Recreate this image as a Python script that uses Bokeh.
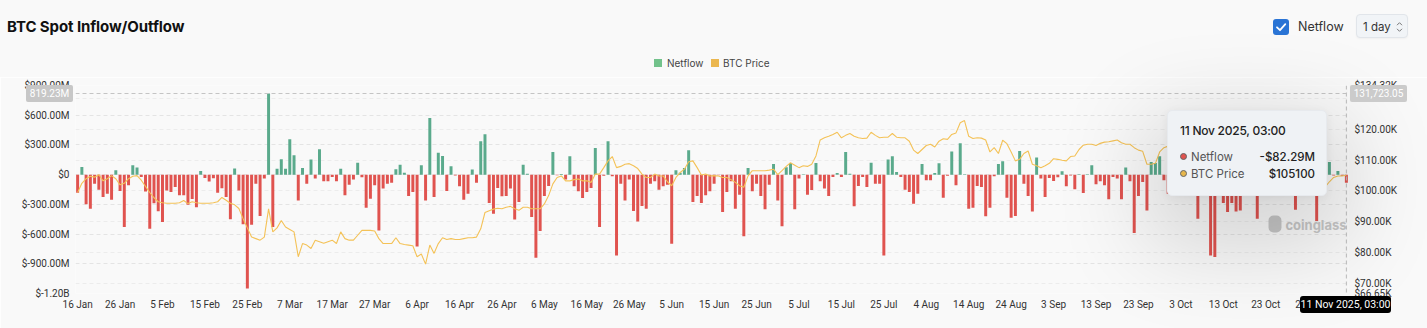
import pandas as pd
from bokeh.plotting import figure
from bokeh.layouts import column
from bokeh.models import (Range1d, LinearAxis, FixedTicker, DatetimeTickFormatter,
                          PrintfTickFormatter, Grid, Span, Label, BoxAnnotation,
                          ColumnDataSource, CDSView, BooleanFilter, Div)
from bokeh.embed import file_html
from bokeh.resources import INLINE

# ---------------- data ----------------
start_date = "2025-01-16"

netflow_m = [
    -182, 78, -300, -344, -91, -152, -226, -192, -253, 44,
    -165, -529, -108, 94, 71, -24, -169, -546, -290, -370,
    -479, -160, -175, -125, -209, -209, -305, -245, -330, 37,
    -35, -70, -37, -183, -138, -226, -450, 61, -160, -500,
    -1150, -505, -91, -418, -40, 819.23, -529, 60, 155, 60,
    357, 195, -260, 67, -91, 152, -40, 256, -67, -67,
    -24, -67, 60, -209, -101, -50, 121, -27, -334, -243,
    -108, -563, -141, -91, -81, 54, 101, 20, -216, -175,
    -725, 94, -260, 573, -226, 222, 189, -165, 84, -8,
    -118, -253, -192, 51, -81, 337, 408, -286, -394, -135,
    -219, -216, -141, -452, -276, 101, 10, -428, -839, -570,
    -216, -115, 229, -5, 7, -50, 185, -118, -168, -236,
    -175, -135, 270, -529, -10, 337, -17, -816, -91, -260,
    -50, -367, -472, -317, -344, -91, -67, -152, -118, -101,
    -698, 44, 20, 67, 246, -276, -216, -286, -209, -168,
    -91, -5, -377, -175, -67, -344, -202, -623, 67, -168,
    -91, -216, -350, -101, 108, -260, -522, 74, 118, -350,
    -40, 5, -202, -155, 118, -67, -141, -216, -24, 17,
    -24, 229, 10, -320, -115, -24, -125, 121, -91, -91,
    -816, 152, 185, 27, -24, -152, -175, -293, -192, 108,
    -57, -57, 17, 115, -233, -10, 233, -108, 317, 5,
    -344, -334, -115, -125, -421, -334, -17, 108, 135, -233,
    -435, -418, 239, -91, -216, -371, 172, -40, -226, -34,
    -64, -27, 34, -118, -8, -148, 5, -185, 5, 94,
    -98, -67, -108, -249, -24, -40, -249, 71, -67, -590,
    -216, -74, -361, 128, 118, 185, -57, -192, -150, 90,
    -120, -180, 60, -90, -445, -160, -190, -816, -832, -140,
    -286, -377, -286, -371, -361, -70, -180, 45, -445, -120,
    -60, -150, 40, -110, -170, 70, -130, -354, -100, 30,
    -160, -80, -468, -140, -60, 127, -8, 37, -10, -82.29,
]

btc_price_k = [
    99.5, 102.5, 104, 104.8, 104.5, 105.3, 103.3, 104, 105, 104,
    102, 102.5, 104, 104.8, 105, 103.5, 101.5, 99.5, 97.8, 96.5,
    96.2, 96, 96, 96, 96.2, 96.9, 95.9, 96.5, 96.2, 96,
    96, 96, 96.2, 96.5, 97.9, 97, 96, 95.5, 94.3, 91,
    88, 85, 84.5, 84, 85, 94.2, 86.7, 88, 90.4, 88.3,
    87.5, 86.7, 78.6, 82.9, 82.4, 81.3, 84, 83.5, 83, 83.5,
    84, 82.9, 86.7, 84.5, 84, 84, 85.6, 87.2, 87.2, 87.2,
    87, 84.5, 82.9, 82.9, 82.9, 84.8, 82.9, 82.6, 82.4, 82.2,
    78.6, 79.5, 76.2, 82.4, 79.7, 82.9, 84.8, 84.2, 84.5, 84.2,
    84.2, 84.5, 84.8, 84.8, 85, 87.7, 93, 93.6, 94.1, 94.4,
    94.2, 94.7, 95, 94.2, 93.7, 94.7, 94.7, 94.2, 94.2, 94.2,
    95.8, 98.5, 102.3, 104.4, 104.9, 103.3, 103.3, 103.7, 103.9, 103.3,
    103.3, 102.8, 105.5, 105.5, 107.6, 109.8, 111.2, 107.6, 108, 108.7,
    108.9, 108.2, 107.3, 105.5, 104.4, 104.4, 105.5, 104.9, 104.9, 103,
    101.7, 104.4, 106, 107.1, 109.5, 109.8, 107.6, 105.2, 105.5, 104.9,
    105, 104.9, 104.4, 104.4, 103.7, 102.8, 101.7, 101.2, 104.9, 106.6,
    106.6, 106.6, 106.6, 106.8, 107.1, 105.3, 106.6, 108, 109.2, 108.4,
    107.6, 108.2, 108, 108.7, 111.4, 116.6, 117.3, 117.8, 118.4, 119.1,
    117.3, 118.1, 118.7, 117.8, 117.3, 117.1, 117.2, 119.1, 118.1, 117.3,
    117.5, 117.5, 118.7, 117.5, 117.3, 117.3, 116.2, 113.3, 112.2, 113.5,
    114.8, 115.2, 114.3, 116.2, 117, 116.8, 118.4, 118.9, 122.2, 122.9,
    117.8, 117.1, 117.3, 117.2, 116.6, 112.7, 114.1, 112.2, 116.5, 115.4,
    112.7, 109.8, 110.3, 112.2, 113, 108.7, 108.2, 107.6, 108.2, 109,
    110.5, 110.3, 110, 109.8, 111.2, 111.4, 113.5, 114.9, 115.2, 115.2,
    114.8, 115.5, 115.9, 116, 116.3, 116.6, 115.7, 115.2, 115.2, 114.1,
    113.3, 112.9, 108.7, 108.7, 109, 112.7, 114.1, 114.6, 118, 120.5,
    122.3, 122.3, 123.5, 124.7, 121.5, 123.3, 121.7, 113.2, 110.7, 115,
    115.3, 113, 110.8, 108.2, 106.5, 107.2, 108.6, 110.5, 108.4, 107.6,
    110, 111, 111.6, 114.5, 114.1, 112.9, 110, 108.3, 109.6, 110,
    110.6, 106.5, 101.5, 103.9, 101.3, 103, 104.4, 104.9, 104.9, 105.1,
]

left_ticks = [-1200, -900, -600, -300, 0, 300, 600, 900]
left_tick_labels = ["$-1.20B", "$-900.00M", "$-600.00M", "$-300.00M", "$0",
                    "$300.00M", "$600.00M", "$900.00M"]
right_ticks = [66.65, 70, 80, 90, 100, 110, 120, 134.32]
right_grid_ticks = [70, 80, 90, 100, 110, 120, 130]

title_text = "BTC Spot Inflow/Outflow"
series_names = ["Netflow", "BTC Price"]
interval_text = "1 day"
hover_netflow_label = "819.23M"
hover_price_label = "131,723.05"
hover_date_label = "11 Nov 2025, 03:00"
tip_netflow = "-$82.29M"
tip_price = "$105100"

# ---------------- colours / geometry ----------------
BG = "#f9f9f9"
GREEN = "#5aaa8c"
RED = "#e0534f"
GOLD = "#f4c257"
W = 1427
HEAD_H = 77                       # header strip (title, controls, legend)
FIG_H = 328 - HEAD_H
FL, FR = 75, 1348                 # plot area, page x
FT, FB = 85, 293                  # plot area, page y


def sx(cx):
    return cx - FL


def sy(cy):
    return FB - cy


# ---------------- header, hover badges and tooltip (HTML layer) ----------------
badge = ("position:absolute;color:#fff;font-family:Roboto,sans-serif;text-align:center;"
         "white-space:nowrap;z-index:20;")
row = "position:absolute;font-size:11.5px;line-height:16px;white-space:nowrap;"
dot = ("position:absolute;left:12px;width:7px;height:7px;border-radius:50%;"
       "border:0.8px solid #666;")
header_html = f"""
<div style="position:relative;width:{W}px;height:{HEAD_H}px;background:{BG};
            font-family:Inter,'Noto Sans',sans-serif;">
  <div style="position:absolute;left:7px;top:18px;font-size:15px;font-weight:700;
              letter-spacing:-0.1px;line-height:18px;color:#111;white-space:nowrap;">
    {title_text}</div>
  <svg style="position:absolute;left:1273px;top:19px;" width="16" height="16">
    <rect x="0" y="0" width="16" height="16" rx="3" fill="#2a74d5"/>
    <path d="M4 8.3 L7 11.2 L12.3 5.2" stroke="white" stroke-width="1.8"
          fill="none" stroke-linecap="round" stroke-linejoin="round"/>
  </svg>
  <div style="position:absolute;left:1298px;top:18px;font-size:12.5px;line-height:18px;
              color:#333;">Netflow</div>
  <div style="position:absolute;left:1356px;top:14px;width:52px;height:24px;
              background:#f1f4f7;border:1px solid #e1e5ea;border-radius:4px;
              box-shadow:0 1px 2px rgba(0,0,0,0.04);">
    <div style="position:absolute;left:6px;top:4px;font-size:11.5px;line-height:16px;
                color:#333;white-space:nowrap;">{interval_text}</div>
    <svg style="position:absolute;left:39px;top:6px;" width="7" height="12">
      <path d="M1 4.2 L3.5 1.7 L6 4.2 M1 7.8 L3.5 10.3 L6 7.8" stroke="#777"
            stroke-width="1" fill="none"/>
    </svg>
  </div>
  <div style="position:absolute;left:654px;top:59px;width:8px;height:8px;
              background:#72c28b;"></div>
  <div style="position:absolute;left:667px;top:56px;font-size:10px;line-height:14px;
              color:#444;">{series_names[0]}</div>
  <div style="position:absolute;left:711px;top:59px;width:8px;height:8px;
              background:#ebb74f;"></div>
  <div style="position:absolute;left:723px;top:56px;font-size:10px;line-height:14px;
              color:#444;">{series_names[1]}</div>
  <div style="{badge}left:26px;top:85px;width:47px;height:17px;line-height:17px;
              font-size:10px;background:#c7c7c7;border-radius:2px;">
    {hover_netflow_label}</div>
  <div style="{badge}left:1350px;top:85px;width:57px;height:17px;line-height:17px;
              font-size:10px;background:#cbcbcb;border-radius:2px;">
    {hover_price_label}</div>
  <div style="{badge}left:1300px;top:296px;width:91px;height:17px;line-height:17px;
              font-size:10.5px;background:#000;border-radius:3px;">
    {hover_date_label}</div>
  <div style="position:absolute;left:1167px;top:110px;width:160px;height:86px;
              background:#eff2f5;border:1px solid #e7eaee;border-radius:5px;
              box-sizing:border-box;z-index:15;
              box-shadow:0 30px 90px 22px rgba(0,0,0,0.15),0 2px 10px rgba(0,0,0,0.06);">
    <div style="{row}left:12px;top:12px;color:#222;font-size:12px;letter-spacing:-0.25px;
                font-weight:500;">{hover_date_label}</div>
    <div style="{dot}top:42px;background:{RED};"></div>
    <div style="{row}left:23px;top:38px;color:#555;">{series_names[0]}</div>
    <div style="{row}right:11px;top:38px;color:#222;font-weight:500;">{tip_netflow}</div>
    <div style="{dot}top:58.5px;background:#e6b64b;"></div>
    <div style="{row}left:23px;top:54.5px;color:#555;">{series_names[1]}</div>
    <div style="{row}right:11px;top:54.5px;color:#222;font-weight:500;">{tip_price}</div>
  </div>
</div>
"""
header = Div(text=header_html, width=W, height=HEAD_H, margin=0,
             styles={"z-index": "10", "overflow": "visible"})

# ---------------- figure ----------------
dates = pd.date_range(start_date, periods=len(netflow_m), freq="D")
day = pd.Timedelta(days=1)
src = ColumnDataSource(dict(date=dates, netflow=netflow_m, price=btc_price_k))
pos_mask = [v >= 0 for v in netflow_m]
neg_mask = [v < 0 for v in netflow_m]

p = figure(width=W, height=FIG_H, x_axis_type="datetime",
           x_range=Range1d(dates[0] - day / 2, dates[-1] + day / 2),
           y_range=Range1d(left_ticks[0], left_ticks[-1]),
           output_backend="svg", toolbar_location=None,
           min_border_left=FL, min_border_right=W - FR,
           min_border_top=FT - HEAD_H, min_border_bottom=328 - FB,
           background_fill_color=BG, border_fill_color=BG,
           outline_line_color=None, margin=0)
p.title.visible = False
p.extra_y_ranges = {"price": Range1d(right_ticks[0], right_ticks[-1])}

AX_FONT = "Roboto"
p.xaxis.ticker = FixedTicker(ticks=[d.value // 10**6 for d in dates[::10]])
p.xaxis.formatter = DatetimeTickFormatter(days="%-d %b", months="%-d %b",
                                          hours="%-d %b", years="%-d %b")
p.yaxis.ticker = FixedTicker(ticks=left_ticks)
p.yaxis.major_label_overrides = dict(zip(left_ticks, left_tick_labels))
right_axis = LinearAxis(y_range_name="price", ticker=FixedTicker(ticks=right_ticks),
                        formatter=PrintfTickFormatter(format="$%.2fK"))
p.add_layout(right_axis, "right")
for ax in [p.xaxis[0], p.yaxis[0], right_axis]:
    ax.axis_line_color = None
    ax.major_tick_line_color = None
    ax.minor_tick_line_color = None
    ax.major_tick_out = 0
    ax.major_tick_in = 0
    ax.minor_tick_out = 0
    ax.minor_tick_in = 0
    ax.major_label_text_font = AX_FONT
    ax.major_label_text_font_size = "10px"
    ax.major_label_text_color = "#333333"
    ax.major_label_standoff = 6
p.xaxis.major_label_standoff = 5

p.xgrid.grid_line_color = None
p.ygrid.ticker = FixedTicker(ticks=left_ticks)
p.ygrid.grid_line_color = "#e4e4e4"
p.ygrid.grid_line_dash = "4 3"
rgrid = Grid(dimension=1, ticker=FixedTicker(ticks=right_grid_ticks), y_range_name="price",
             grid_line_color="#ececec", grid_line_dash="4 3")
p.add_layout(rgrid)

bw = 0.7 * 86400000
pos_bars = p.vbar(x="date", top="netflow", bottom=0, width=bw, source=src,
                  view=CDSView(filter=BooleanFilter(pos_mask)),
                  fill_color=GREEN, line_color=None)
neg_bars = p.vbar(x="date", top="netflow", bottom=0, width=bw, source=src,
                  view=CDSView(filter=BooleanFilter(neg_mask)),
                  fill_color=RED, line_color=None)
price_line = p.line(x="date", y="price", source=src, y_range_name="price",
                    line_color=GOLD, line_width=1.1)

# crosshair
p.add_layout(Span(location=dates[-1].to_pydatetime(), dimension="height",
                  line_color="#bdbdbd", line_dash="4 3", line_width=1))
p.add_layout(Span(location=819.23, dimension="width",
                  line_color="#c4c4c4", line_dash="4 3", line_width=1))

# watermark
p.add_layout(BoxAnnotation(left=sx(1268), right=sx(1281), top=sy(215), bottom=sy(232),
                           left_units="screen", right_units="screen",
                           top_units="screen", bottom_units="screen",
                           fill_color="#c6c6c6", fill_alpha=1, line_color=None,
                           border_radius=5))
p.add_layout(Label(x=sx(1346), y=sy(224), x_units="screen", y_units="screen",
                   text="coinglass", text_font="Inter", text_font_size="13px",
                   text_color="#c6c6c6", text_align="right", text_baseline="middle",
                   text_font_style="bold"))

layout = column(header, p, spacing=0, margin=0)
open("out.html", "w").write(file_html(layout, INLINE))
